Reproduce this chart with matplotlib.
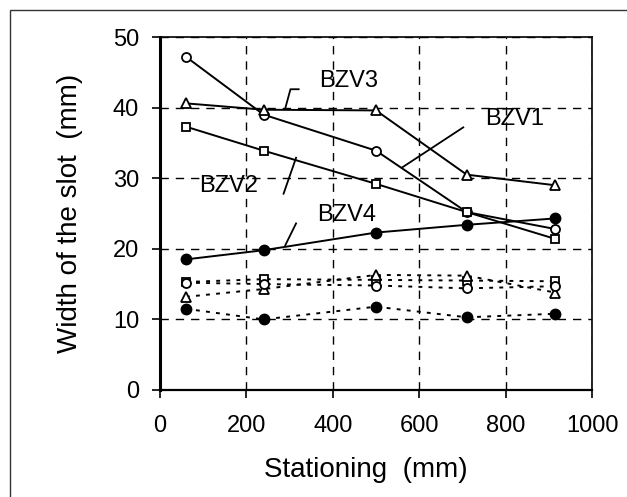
import matplotlib
matplotlib.use("Agg")
import matplotlib.pyplot as plt
from matplotlib.patches import Rectangle

plt.rcParams['font.family'] = ['Liberation Sans', 'DejaVu Sans']

# Stationing along the specimen (mm)
station = [60, 240, 500, 710, 915]

# Slot width, upper (solid) series
bzv1 = [47.2, 39.0, 33.9, 25.2, 22.8]
bzv2 = [37.3, 33.9, 29.2, 25.2, 21.4]
bzv3 = [40.6, 39.7, 39.6, 30.5, 29.0]
bzv4 = [18.5, 19.8, 22.3, 23.4, 24.3]

# Slot width, lower (dotted) series
bzv1_low = [15.2, 15.0, 14.8, 14.4, 14.7]
bzv2_low = [15.3, 15.7, 15.6, 15.5, 15.4]
bzv3_low = [13.2, 14.3, 16.3, 16.2, 13.8]
bzv4_low = [11.5, 10.0, 11.8, 10.3, 10.8]

xticks = [0, 200, 400, 600, 800, 1000]
yticks = [0, 10, 20, 30, 40, 50]

fig = plt.figure(figsize=(6.27, 4.97), dpi=100)
ax = fig.add_axes([160 / 627, 1 - 390 / 497, 432 / 627, 353 / 497])

# Outer frame of the figure (left and top edges visible)
fig.patches.append(Rectangle((9.5 / 627, -0.1), 1.2, 1.1 - 9.5 / 497 + 0.0,
                             transform=fig.transFigure, fill=False,
                             edgecolor='#333333', linewidth=1.0))

solid = dict(color='black', lw=1.4, mec='black')
dotted = dict(color='black', lw=1.4, ls=(0, (2, 3.2)), mec='black')

ax.plot(station, bzv1, marker='o', ms=6.5, mfc='white', mew=1.3, **solid)
ax.plot(station, bzv2, marker='s', ms=6.0, mfc='white', mew=1.3, **solid)
ax.plot(station, bzv3, marker='^', ms=7.0, mfc='white', mew=1.3, **solid)
ax.plot(station, bzv4, marker='o', ms=7.5, mfc='black', mew=1.0, **solid)

ax.plot(station, bzv2_low, marker='s', ms=6.0, mfc='white', mew=1.3, **dotted)
ax.plot(station, bzv3_low, marker='^', ms=7.0, mfc='white', mew=1.3, **dotted)
ax.plot(station, bzv1_low, marker='o', ms=6.5, mfc='white', mew=1.3, **dotted)
ax.plot(station, bzv4_low, marker='o', ms=7.5, mfc='black', mew=1.0, **dotted)

# Series labels with leader lines
lab = dict(fontsize=17, ha='center', va='center')
ax.text(437, 43.8, 'BZV3', **lab)
ax.plot([290, 302, 321], [39.9, 42.6, 42.6], color='black', lw=1.3)
ax.text(822, 38.4, 'BZV1', **lab)
ax.plot([560, 702], [31.5, 37.2], color='black', lw=1.3)
ax.text(160, 28.9, 'BZV2', **lab)
ax.plot([286, 315], [27.8, 32.9], color='black', lw=1.3)
ax.text(431, 24.8, 'BZV4', **lab)
ax.plot([290, 315], [20.5, 23.6], color='black', lw=1.3)

ax.set_xlim(0, 1000)
ax.set_ylim(0, 50)
ax.set_xticks(xticks)
ax.set_yticks(yticks)
ax.tick_params(axis='both', direction='out', length=6, width=1.2, labelsize=17)
ax.tick_params(axis='x', pad=12)
ax.tick_params(axis='y', pad=9)

ax.grid(True, color='black', lw=1.0, ls=(0, (6, 5)))
ax.set_axisbelow(True)

ax.spines['left'].set_linewidth(2.2)
ax.spines['bottom'].set_linewidth(1.6)
ax.spines['top'].set_linewidth(1.2)
ax.spines['right'].set_linewidth(1.2)

fig.text(366 / 627, 1 - 470 / 497, 'Stationing  (mm)', fontsize=20,
         ha='center', va='center')
fig.text(70 / 627, 1 - 213 / 497, 'Width of the slot  (mm)', fontsize=20,
         ha='center', va='center', rotation=90)

fig.savefig('out.png', dpi=100)
